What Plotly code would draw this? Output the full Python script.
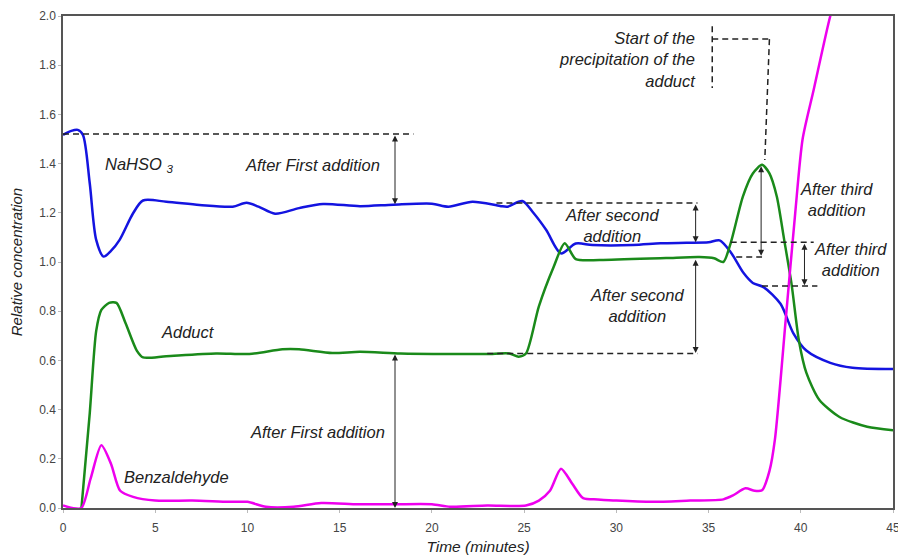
import plotly.graph_objects as go

# ---- data ----
t_nahso3 = [0, 0.45, 0.8, 1.08, 1.45, 1.8, 2.2, 2.6, 3.07, 3.8, 4.34, 5.6, 7.4, 9.2, 9.95, 10.6,
            11.5, 12.8, 14.1, 16.1, 17.9, 20.0, 20.9, 22.2, 23.7, 24.1, 24.9, 25.5, 26.2, 27.0,
            27.8, 28.7, 30.9, 32.4, 33.8, 35.0, 35.6, 36.2, 36.9, 37.4, 38.0, 38.9, 39.6, 40.3,
            41.6, 42.8, 45]
v_nahso3 = [1.517, 1.533, 1.537, 1.517, 1.32, 1.09, 1.022, 1.045, 1.09, 1.198, 1.25, 1.245, 1.232,
            1.225, 1.241, 1.225, 1.196, 1.219, 1.236, 1.227, 1.233, 1.237, 1.225, 1.245, 1.228,
            1.225, 1.248, 1.2, 1.13, 1.035, 1.075, 1.069, 1.069, 1.076, 1.078, 1.08, 1.088, 1.04,
            0.955, 0.915, 0.897, 0.83, 0.71, 0.64, 0.59, 0.57, 0.565]

t_adduct = [1.0, 1.45, 1.8, 2.08, 2.5, 2.9, 3.4, 4.0, 4.34, 5.6, 8.3, 10.1, 11.9, 12.8, 14.6,
            16.1, 18.3, 21, 23.0, 24.2, 24.7, 25.1, 25.8, 26.6, 27.2, 27.8, 29.1, 32.7, 34.5,
            35.3, 35.8, 36.2, 36.86, 37.4, 37.9, 38.3, 38.7, 39.1, 39.5, 39.9, 40.3, 41.0, 42.1,
            43.6, 45]
v_adduct = [0.0, 0.385, 0.72, 0.805, 0.834, 0.834, 0.75, 0.64, 0.612, 0.617, 0.628, 0.626, 0.645,
            0.645, 0.63, 0.635, 0.628, 0.626, 0.626, 0.628, 0.615, 0.628, 0.82, 0.98, 1.076,
            1.012, 1.008, 1.016, 1.02, 1.015, 1.0, 1.077, 1.266, 1.36, 1.395, 1.36, 1.266, 1.09,
            0.91, 0.68, 0.55, 0.44, 0.37, 0.33, 0.316]

t_benz = [0, 0.5, 1.0, 1.5, 2.08, 2.6, 3.1, 3.8, 5.0, 7.0, 9.0, 10.0, 11.0, 12.5, 14.0, 16.0,
          18.0, 20.0, 21.0, 23.0, 25.1, 25.8, 26.4, 27.0, 27.6, 28.2, 29.0, 30.0, 32.0, 34.0,
          35.8, 36.3, 37.0, 37.5, 37.9, 38.3, 38.6, 39.2, 39.7, 40.1, 40.7, 41.6, 42.2]
v_benz = [0.01, 0.0, 0.0, 0.12, 0.255, 0.18, 0.07, 0.045, 0.03, 0.03, 0.025, 0.025, 0.005, 0.005,
          0.02, 0.015, 0.015, 0.015, 0.005, 0.01, 0.01, 0.03, 0.07, 0.16, 0.1, 0.04, 0.035, 0.03,
          0.025, 0.03, 0.035, 0.05, 0.08, 0.07, 0.072, 0.15, 0.28, 0.78, 1.2, 1.5, 1.7, 2.0, 2.15]

# dashed guide segments (x0, y0, x1, y1)
dashed_segments = [
    (0, 1.52, 19.0, 1.52),
    (23.5, 1.24, 34.4, 1.24),
    (23.0, 0.628, 34.4, 0.628),
    (36.2, 1.08, 40.7, 1.08),
    (36.5, 1.02, 37.9, 1.02),
    (37.9, 0.902, 40.9, 0.902),
    (35.2, 1.958, 35.2, 1.707),
    (35.2, 1.906, 38.3, 1.906),
    (38.3, 1.906, 38.05, 1.415),
]
# double-headed arrows (x, y_top, y_bottom)
arrows = [
    (18.0, 1.52, 1.235),
    (18.0, 0.63, 0.0),
    (34.3, 1.24, 1.08),
    (34.3, 1.015, 0.63),
    (37.85, 1.395, 1.025),
    (40.2, 1.08, 0.905),
]
# text labels (x, y, text, xanchor, align)
labels = [
    (2.15, 1.395, "NaHSO <sub>3</sub>", "left", "left"),
    (13.5, 1.395, "After First addition", "center", "center"),
    (6.76, 0.715, "Adduct", "center", "center"),
    (13.8, 0.308, "After First addition", "center", "center"),
    (6.17, 0.125, "Benzaldehyde", "center", "center"),
    (29.76, 1.149, "After second<br>addition", "center", "center"),
    (31.1, 0.823, "After second<br>addition", "center", "center"),
    (41.96, 1.256, "After third<br>addition", "center", "center"),
    (42.72, 1.012, "After third<br>addition", "center", "center"),
    (34.42, 1.822, "Start of the<br>precipitation of the<br>adduct", "right", "right"),
]
x_ticks = [0, 5, 10, 15, 20, 25, 30, 35, 40, 45]
y_ticks = [0.0, 0.2, 0.4, 0.6, 0.8, 1.0, 1.2, 1.4, 1.6, 1.8, 2.0]

FONT = "Liberation Sans, Arial, sans-serif"

fig = go.Figure()
fig.add_trace(go.Scatter(x=t_nahso3, y=v_nahso3, mode="lines", name="NaHSO3",
                         line=dict(color="#1414e0", width=2.5, shape="spline", smoothing=0.8)))
fig.add_trace(go.Scatter(x=t_adduct, y=v_adduct, mode="lines", name="Adduct",
                         line=dict(color="#1a8a1a", width=2.5, shape="spline", smoothing=0.7)))
fig.add_trace(go.Scatter(x=t_benz, y=v_benz, mode="lines", name="Benzaldehyde",
                         line=dict(color="#ee00ee", width=2.5, shape="spline", smoothing=0.7)))

shapes = []
for x0, y0, x1, y1 in dashed_segments:
    shapes.append(dict(type="line", xref="x", yref="y", x0=x0, y0=y0, x1=x1, y1=y1,
                       line=dict(color="#222222", width=1.5, dash="6px,4px")))

annotations = []
for x, ytop, ybot in arrows:
    annotations.append(dict(x=x, y=ybot, ax=x, ay=ytop, xref="x", yref="y", axref="x", ayref="y",
                            text="", showarrow=True, arrowhead=2, startarrowhead=2,
                            arrowside="end+start", arrowsize=1.2, arrowwidth=1,
                            arrowcolor="#222222"))
for x, y, txt, xa, al in labels:
    annotations.append(dict(x=x, y=y, xref="x", yref="y", text="<i>" + txt + "</i>",
                            showarrow=False, xanchor=xa, yanchor="middle", align=al,
                            font=dict(family=FONT, size=16.5, color="#222222")))

# the page body has an 8px default margin, so the figure is sized/offset to compensate
fig.update_layout(
    width=898, height=548,
    margin=dict(l=55, r=13, t=8, b=48, autoexpand=False),
    paper_bgcolor="white", plot_bgcolor="white",
    showlegend=False,
    font=dict(family=FONT, size=12, color="#444444"),
    shapes=shapes, annotations=annotations,
    xaxis=dict(range=[0, 45], tickvals=x_ticks, ticktext=[str(v) for v in x_ticks],
               showgrid=False, zeroline=False, showline=True, mirror=True, automargin=False,
               linecolor="#555555", linewidth=1.5, ticks="outside", ticklen=3,
               tickcolor="#bbbbbb", tickfont=dict(size=12, color="#444444"),
               ticklabelstandoff=5,
               title=dict(text="<i>Time (minutes)</i>", standoff=7,
                          font=dict(size=15.5, color="#222222"))),
    yaxis=dict(range=[0, 2], tickvals=y_ticks, ticktext=["%.1f" % v for v in y_ticks],
               showgrid=False, zeroline=False, showline=True, mirror=True, automargin=False,
               linecolor="#555555", linewidth=1.5, ticks="outside", ticklen=3,
               tickcolor="#bbbbbb", tickfont=dict(size=12, color="#444444"),
               title=dict(text="<i>Relative concentration</i>", standoff=14,
                          font=dict(size=15, color="#222222"))),
)

fig.write_html("out.html")
